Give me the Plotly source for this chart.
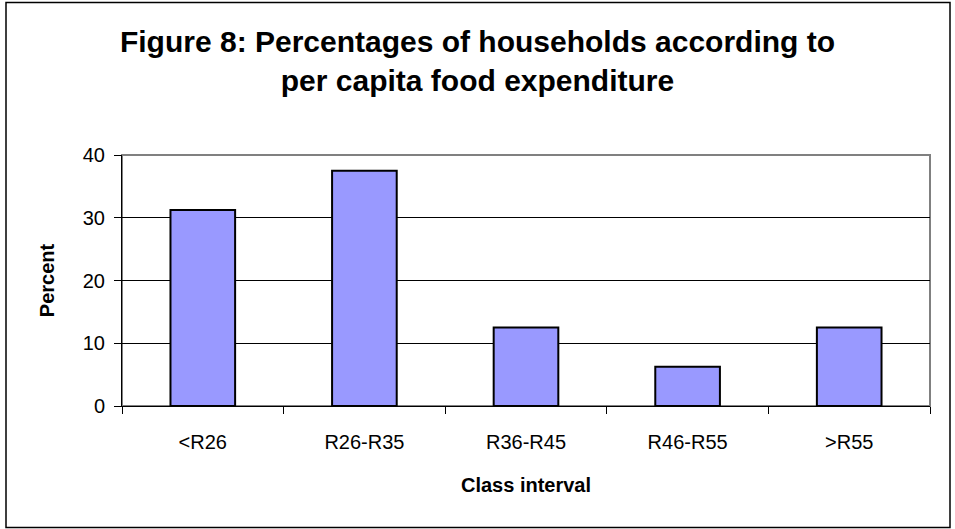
import plotly.graph_objects as go

categories = ["<R26", "R26-R35", "R36-R45", "R46-R55", ">R55"]
percent = [31.25, 37.5, 12.5, 6.25, 12.5]

fig = go.Figure(
    data=go.Bar(
        x=categories,
        y=percent,
        width=0.4,
        marker=dict(color="#9999FF", line=dict(color="black", width=2)),
    )
)

font_family = "Arial, Liberation Sans, sans-serif"

fig.update_layout(
    width=955,
    height=529,
    margin=dict(l=122, r=25, t=155, b=123),
    paper_bgcolor="white",
    plot_bgcolor="white",
    showlegend=False,
    font=dict(family=font_family, size=20, color="black"),
    title=dict(
        text="<b>Figure 8: Percentages of households according to<br>per capita food expenditure</b>",
        x=0.5,
        xanchor="center",
        yref="container",
        y=1 - 52 / 529,
        yanchor="top",
        font=dict(size=30, family=font_family, color="black"),
    ),
    xaxis=dict(
        title=dict(text="<b>Class interval</b>", font=dict(size=20), standoff=25),
        showline=True,
        linecolor="black",
        linewidth=1,
        ticks="outside",
        ticklen=7,
        tickcolor="black",
        tickson="boundaries",
        ticklabelstandoff=18,
        showgrid=False,
        tickfont=dict(size=20),
    ),
    yaxis=dict(
        title=dict(text="<b>Percent</b>", font=dict(size=20), standoff=22),
        range=[0, 40],
        dtick=10,
        showline=True,
        linecolor="black",
        linewidth=1,
        ticks="outside",
        ticklen=7,
        tickcolor="black",
        ticklabelstandoff=5,
        showgrid=True,
        gridcolor="black",
        gridwidth=1,
        zeroline=False,
        tickfont=dict(size=20),
    ),
)

# plot-area border (grey, Excel style)
fig.add_shape(
    type="rect", xref="paper", yref="paper", x0=0, y0=0, x1=1, y1=1,
    line=dict(color="#808080", width=2), layer="below",
)
# outer chart border
fig.add_shape(
    type="rect", xref="paper", yref="paper",
    x0=(6 - 122) / 808, x1=(950 - 122) / 808,
    y0=(406 - 527.5) / 251, y1=(406 - 2.5) / 251,
    line=dict(color="black", width=1.5),
)

fig.write_html(
    "out.html",
    config={"displayModeBar": False},
    post_script="document.body.style.margin='0';",
)
